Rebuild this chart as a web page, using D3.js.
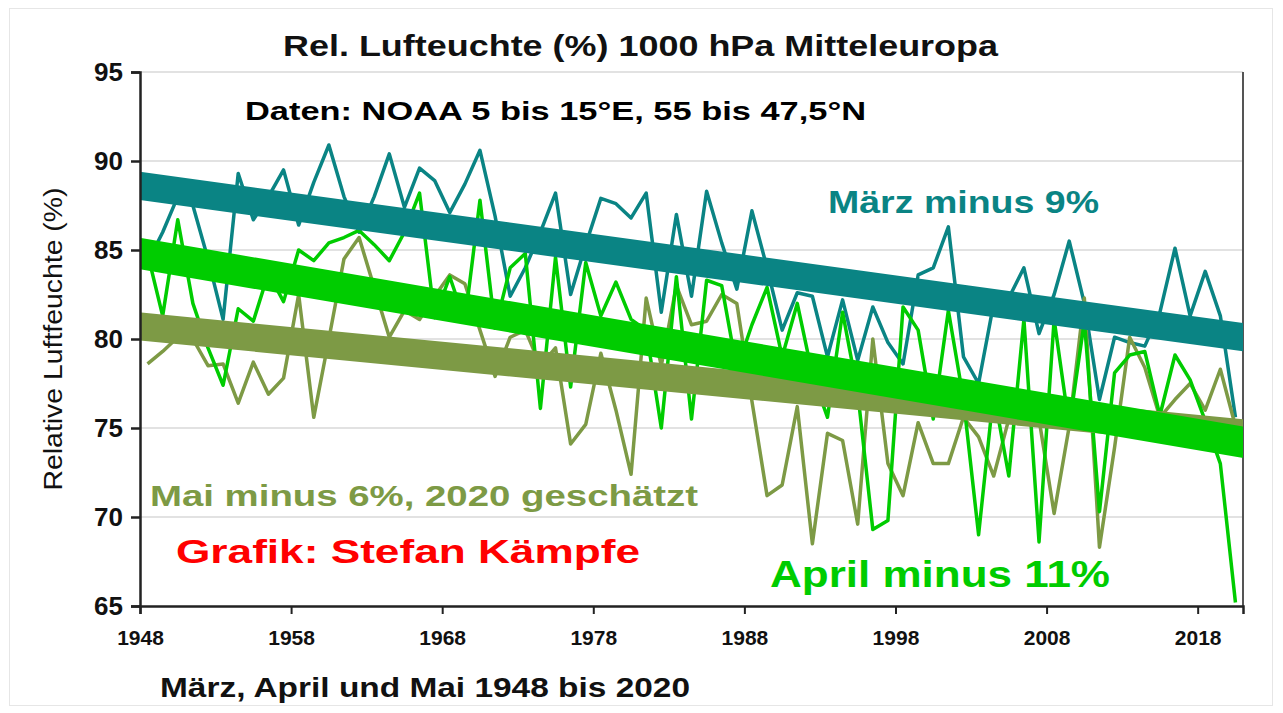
<!DOCTYPE html>
<html>
<head>
<meta charset="utf-8">
<script src="https://cdn.jsdelivr.net/npm/d3@7"></script>
<style>
  body { margin: 0; background: #fff; }
  svg { display: block; }
  text { font-family: "Liberation Sans", Arial, sans-serif; }
</style>
</head>
<body>
<svg id="chart" width="1283" height="713"></svg>
<script>
// Jahre 1948 bis 2020
var years = d3.range(1948, 2021);

// Rel. Feuchte Maerz (%)
var maerz = [
  84.3, 86.0, 88.0, 87.5, 84.5, 81.1, 89.3, 86.7, 88.0, 89.5,
  86.4, 88.8, 90.9, 88.0, 86.0, 88.0, 90.4, 87.4, 89.6, 88.9,
  87.1, 88.7, 90.6, 86.9, 82.4, 84.0, 86.0, 88.2, 82.5, 85.3,
  87.9, 87.6, 86.8, 88.2, 81.5, 87.0, 82.4, 88.3, 85.4, 82.8,
  87.2, 84.0, 80.5, 82.6, 82.4, 79.0, 82.2, 78.8, 81.8, 79.8,
  78.6, 83.6, 84.0, 86.3, 79.0, 77.5, 82.0, 82.3, 84.0, 80.3,
  82.5, 85.5, 82.0, 76.6, 80.1, 79.8, 79.6, 81.5, 85.1, 81.3,
  83.8, 81.3, 75.6
];

// April
var april = [
  84.8, 81.3, 86.7, 82.0, 79.5, 77.4, 81.7, 81.0, 83.7, 82.1,
  85.0, 84.4, 85.4, 85.7, 86.1, 85.3, 84.4, 86.0, 88.2, 81.2,
  83.5, 81.0, 87.8, 80.6, 84.0, 84.8, 76.1, 84.6, 77.3, 84.3,
  81.3, 83.2, 81.1, 80.5, 75.0, 83.5, 75.5, 83.3, 83.0, 78.3,
  80.8, 82.9, 79.0, 82.0, 78.0, 75.6, 81.5, 77.0, 69.3, 69.8,
  81.8, 80.5, 75.5, 81.6, 76.6, 69.0, 77.0, 72.3, 81.1, 68.6,
  81.1, 75.1, 81.0, 70.3, 78.1, 79.1, 79.3, 75.7, 79.1, 77.7,
  75.4, 73.0, 65.2
];

// Mai (2020 geschaetzt)
var mai = [
  78.6, 79.3, 80.1, 80.0, 78.5, 78.6, 76.4, 78.7, 76.9, 77.8,
  82.5, 75.6, 80.0, 84.5, 85.7, 82.9, 80.1, 81.6, 81.1, 82.4,
  83.6, 83.1, 80.5, 77.9, 80.1, 80.5, 78.5, 79.5, 74.1, 75.2,
  79.2, 76.0, 72.4, 82.3, 78.5, 83.0, 80.8, 81.0, 82.5, 82.0,
  76.5, 71.2, 71.8, 76.2, 68.5, 74.7, 74.3, 69.6, 80.0, 73.0,
  71.2, 75.3, 73.0, 73.0, 75.6, 74.5, 72.3, 75.5, 76.0, 75.5,
  70.2, 75.1, 82.3, 68.3, 73.9, 80.1, 78.4, 75.6, 76.6, 77.5,
  76.0, 78.3, 75.1
];

// lineare Trends, Werte am linken und rechten Rand
var trendYears = [1948, 2021];
var trendMaerz = [88.6, 80.1];
var trendApril = [84.8, 74.2];
var trendMai = [80.7, 74.7];

var yTicks = [65, 70, 75, 80, 85, 90, 95];
var xTicks = [1948, 1958, 1968, 1978, 1988, 1998, 2008, 2018];

var teal = "#0a8484", green = "#00cc00", olive = "#7d9a45";

var svg = d3.select("#chart");
var pL = 140, pR = 1243, pT = 72, pB = 606;

// aeusserer Rahmen
svg.append("rect")
    .attr("x", 9.5).attr("y", 8.5)
    .attr("width", 1263).attr("height", 697)
    .attr("fill", "#fff")
    .attr("stroke", "#e6e6e6");

var x = d3.scaleLinear().domain([1948, 2021]).range([pL, pR]);
var y = d3.scaleLinear().domain([65, 95]).range([pB, pT]);

// Gitterlinien
svg.append("g").selectAll("line")
    .data(yTicks.slice(1))
    .enter().append("line")
    .attr("x1", pL).attr("x2", pR)
    .attr("y1", d => y(d)).attr("y2", d => y(d))
    .attr("stroke", "#d9d9d9").attr("stroke-width", 1.5);

// rechter Rand
svg.append("line")
    .attr("x1", pR).attr("x2", pR)
    .attr("y1", pT).attr("y2", pB)
    .attr("stroke", "#555").attr("stroke-width", 2);

svg.append("clipPath").attr("id", "plotclip")
  .append("rect").attr("x", pL).attr("y", pT - 20)
  .attr("width", pR - pL).attr("height", pB - pT + 20);

var plot = svg.append("g").attr("clip-path", "url(#plotclip)");

var line = d3.line()
    .x((d, i) => x(years[i] + 0.5))
    .y(d => y(d));

[[maerz, teal], [mai, olive], [april, green]].forEach(function(s) {
  plot.append("path")
      .datum(s[0])
      .attr("d", line)
      .attr("fill", "none")
      .attr("stroke", s[1])
      .attr("stroke-width", 3.5)
      .attr("stroke-linejoin", "round");
});

var trendLine = d3.line()
    .x((d, i) => x(trendYears[i]))
    .y(d => y(d));

[[trendMai, olive, 28], [trendApril, green, 31], [trendMaerz, teal, 28]].forEach(function(s) {
  plot.append("path")
      .datum(s[0])
      .attr("d", trendLine)
      .attr("fill", "none")
      .attr("stroke", s[1])
      .attr("stroke-width", s[2])
      .attr("stroke-linecap", "round");
});

// Achsen
var yAxis = svg.append("g")
    .attr("transform", "translate(" + pL + ",0)")
    .call(d3.axisLeft(y).tickValues(yTicks).tickSize(9).tickPadding(8));
yAxis.select(".domain").attr("stroke", "#222").attr("stroke-width", 2.5);
yAxis.selectAll(".tick line").attr("stroke", "#222").attr("stroke-width", 2.5);
yAxis.selectAll(".tick text")
    .attr("font-size", 26).attr("font-weight", "bold").attr("fill", "#111")
    .attr("font-family", "'Liberation Sans', Arial, sans-serif");

var xAxis = svg.append("g")
    .attr("transform", "translate(0," + pB + ")")
    .call(d3.axisBottom(x).tickValues(xTicks).tickFormat(d3.format("d")).tickSize(8).tickPadding(16));
xAxis.select(".domain").attr("stroke", "#222").attr("stroke-width", 2.5);
xAxis.selectAll(".tick line").attr("stroke", "#222").attr("stroke-width", 2);
xAxis.selectAll(".tick text")
    .attr("font-size", 21).attr("font-weight", "bold").attr("fill", "#111")
    .attr("font-family", "'Liberation Sans', Arial, sans-serif");

// Texte (gestreckt auf die Breite im Original)
function label(txt, px, py, size, color, width, weight) {
  return svg.append("text")
      .attr("x", px).attr("y", py)
      .attr("font-size", size)
      .attr("font-weight", weight || "bold")
      .attr("fill", color)
      .attr("textLength", width)
      .attr("lengthAdjust", "spacingAndGlyphs")
      .text(txt);
}

label("Rel. Lufteuchte (%) 1000 hPa Mitteleuropa", 283, 56, 29, "#111", 715);
label("Daten: NOAA 5 bis 15°E, 55 bis 47,5°N", 245, 120, 25, "#000", 621);
label("März minus 9%", 828, 213, 31, teal, 271);
label("Mai minus 6%, 2020 geschätzt", 150, 506, 30, olive, 548);
label("Grafik: Stefan Kämpfe", 176, 563, 34, "#ff0000", 464);
label("April minus 11%", 770, 587, 36, green, 340);
label("März, April und Mai 1948 bis 2020", 160, 697, 27, "#111", 530);

svg.append("text")
    .attr("transform", "translate(62," + (pT + pB) / 2 + ") rotate(-90)")
    .attr("text-anchor", "middle")
    .attr("font-size", 25)
    .attr("fill", "#111")
    .attr("textLength", 303)
    .attr("lengthAdjust", "spacingAndGlyphs")
    .text("Relative Luftfeuchte (%)");
</script>
</body>
</html>
